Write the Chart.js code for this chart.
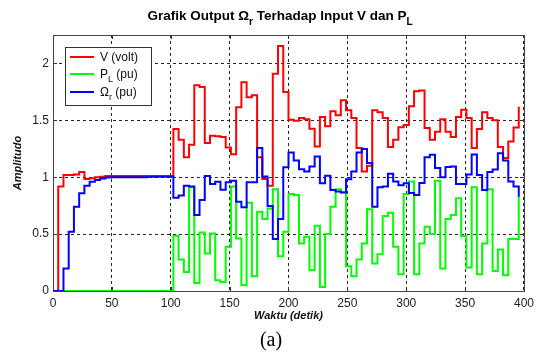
<!DOCTYPE html>
<html>
<head>
<meta charset="utf-8">
<script src="https://cdn.jsdelivr.net/npm/chart.js@4.4.0/dist/chart.umd.min.js"></script>
<style>
  body { margin: 0; background: #fff; }
  #wrap { position: relative; width: 539px; height: 352px; }
</style>
</head>
<body>
<div id="wrap"><canvas id="omegaChart"></canvas></div>
<script>
// sample time of the simulation (90 steps over 400 s)
const sampleTime = 400 / 90

const xTicks = [0, 50, 100, 150, 200, 250, 300, 350, 400]
const yTicks = [0, 0.5, 1, 1.5, 2]

// V (volt)
const voltValues = [
  0, 0.918, 1.02, 1.02, 1.025, 1.045, 0.985, 0.99, 1.0, 1.005,
  1.01, 1.01, 1.01, 1.01, 1.01, 1.01, 1.01, 1.01, 1.01, 1.01,
  1.01, 1.01, 1.01, 1.424, 1.329, 1.176, 1.285, 1.809, 1.794, 1.30,
  1.365, 1.36, 1.353, 1.262, 1.203, 1.615, 1.835, 1.703, 1.72, 1.176,
  0.985, 0.926, 1.909, 2.153, 1.75, 1.506, 1.497, 1.52, 1.51, 1.426,
  1.27, 1.53, 1.447, 1.579, 1.544, 1.676, 1.588, 1.52, 1.256, 1.05,
  1.10, 1.588, 1.57, 1.52, 1.265, 1.33, 1.44, 1.46, 1.624, 1.756,
  1.762, 1.432, 1.33, 1.40, 1.51, 1.40, 1.353, 1.53, 1.594, 1.52,
  1.256, 1.424, 1.57, 1.52, 1.50, 1.265, 1.168, 1.315, 1.438, 1.62
]

// P_L (pu)
const loadValues = [
  0, 0, 0, 0, 0, 0, 0, 0, 0, 0,
  0, 0, 0, 0, 0, 0, 0, 0, 0, 0,
  0, 0, 0, 0.485, 0.276, 0.168, 0.912, 0.07, 0.515, 0.33,
  0.506, 0.094, 0.079, 0.388, 0.918, 0.462, 0.05, 0.776, 0.13, 0.697,
  0.632, 0.726, 0.894, 0.306, 0.52, 0.853, 0.844, 0.418, 0.476, 0.182,
  0.574, 0.035, 0.5, 0.741, 0.894, 0.87, 0.218, 0.129, 0.276, 0.418,
  0.718, 0.241, 0.324, 0.659, 0.688, 0.388, 0.147, 0.853, 0.962, 0.147,
  0.418, 0.565, 0.5, 0.97, 0.197, 0.632, 0.668, 0.815, 0.482, 0.206,
  0.912, 0.147, 0.418, 0.894, 0.176, 0.365, 0.138, 0.456, 0.456, 0.83
]

// Omega_r (pu)
const omegaValues = [
  0, 0, 0.197, 0.52, 0.74, 0.86, 0.926, 0.96, 0.976, 0.988,
  0.997, 1.0, 1.0, 1.0, 1.0, 1.0, 1.0, 1.0, 1.005, 1.005,
  1.005, 1.005, 1.005, 0.82, 0.84, 0.926, 0.918, 0.668, 0.80, 1.01,
  0.94, 0.96, 0.89, 0.956, 0.968, 0.785, 0.735, 0.956, 0.956, 1.256,
  1.006, 0.747, 0.456, 0.632, 1.088, 1.218, 1.147, 1.07, 1.05, 1.094,
  1.182, 0.947, 1.012, 0.888, 0.874, 0.865, 0.982, 1.05, 1.218, 1.247,
  1.124, 0.741, 0.912, 0.918, 1.03, 0.962, 0.93, 0.947, 0.862, 0.844,
  0.95, 1.176, 1.197, 1.08, 1.0, 1.09, 1.094, 0.941, 0.941, 1.025,
  1.2, 1.02, 0.888, 1.045, 1.068, 1.21, 1.147, 0.962, 0.918, 0.829
]

const fontFamily = "'Liberation Sans', Arial, sans-serif"

function toPoints(values) {
  return values.map(function(v, i) {
    return { x: i * sampleTime, y: v }
  })
}

// draws text made of [text, isSubscript] pieces
function drawSubText(ctx, parts, x, y, size, weight, align) {
  let widths = parts.map(function(p) {
    ctx.font = weight + " " + (p[1] ? size * 0.75 : size) + "px " + fontFamily
    return ctx.measureText(p[0]).width
  })
  let total = widths.reduce(function(a, b) { return a + b }, 0)
  let cx = align === "center" ? x - total / 2 : x
  ctx.textAlign = "left"
  ctx.textBaseline = "alphabetic"
  parts.forEach(function(p, i) {
    ctx.font = weight + " " + (p[1] ? size * 0.75 : size) + "px " + fontFamily
    ctx.fillText(p[0], cx, p[1] ? y + size * 0.35 : y)
    cx += widths[i]
  })
}

const decorPlugin = {
  id: "decor",
  beforeDatasetsDraw(chart) {
    const ctx = chart.ctx
    const area = chart.chartArea
    const xs = chart.scales.x
    const ys = chart.scales.y
    ctx.save()
    ctx.strokeStyle = "#333"
    ctx.lineWidth = 1
    ctx.setLineDash([])
    // inward tick marks on all four sides
    ctx.beginPath()
    xTicks.forEach(function(t) {
      let px = Math.round(xs.getPixelForValue(t)) + 0.5
      ctx.moveTo(px, area.bottom); ctx.lineTo(px, area.bottom - 4)
      ctx.moveTo(px, area.top); ctx.lineTo(px, area.top + 4)
    })
    yTicks.forEach(function(t) {
      let py = Math.round(ys.getPixelForValue(t)) + 0.5
      ctx.moveTo(area.left, py); ctx.lineTo(area.left + 4, py)
      ctx.moveTo(area.right, py); ctx.lineTo(area.right - 4, py)
    })
    ctx.stroke()
    ctx.strokeStyle = "#444"
    ctx.strokeRect(Math.round(area.left) + 0.5, Math.round(area.top) + 0.5,
      Math.round(area.right - area.left), Math.round(area.bottom - area.top))
    ctx.restore()
  },
  afterDraw(chart) {
    const ctx = chart.ctx
    ctx.save()
    ctx.fillStyle = "#000"
    // title
    drawSubText(ctx, [["Grafik Output \u03A9", false], ["r", true], [" Terhadap Input V dan P", false], ["L", true]],
      280, 20, 13.5, "bold", "center")

    // legend
    ctx.fillStyle = "#fff"
    ctx.fillRect(65, 47, 86, 58)
    ctx.strokeStyle = "#333"
    ctx.lineWidth = 1
    ctx.strokeRect(65.5, 47.5, 86, 58)
    const items = [
      { color: "#ff0000", y: 57, parts: [["V (volt)", false]] },
      { color: "#00ff00", y: 74, parts: [["P", false], ["L", true], [" (pu)", false]] },
      { color: "#0000ff", y: 92, parts: [["\u03A9", false], ["r", true], [" (pu)", false]] }
    ]
    items.forEach(function(item) {
      ctx.strokeStyle = item.color
      ctx.lineWidth = 2
      ctx.beginPath()
      ctx.moveTo(70, item.y)
      ctx.lineTo(94, item.y)
      ctx.stroke()
      ctx.fillStyle = "#111"
      drawSubText(ctx, item.parts, 100, item.y + 4, 12, "normal", "left")
    })

    // caption under the figure
    ctx.fillStyle = "#000"
    ctx.font = "20px 'Liberation Serif', 'Times New Roman', serif"
    ctx.textAlign = "center"
    ctx.textBaseline = "alphabetic"
    ctx.fillText("(a)", 271, 346)
    ctx.restore()
  }
}

const lineStyle = {
  stepped: "before",
  borderWidth: 2,
  pointRadius: 0,
  fill: false,
  tension: 0
}

new Chart(document.getElementById("omegaChart"), {
  type: "line",
  data: {
    datasets: [
      Object.assign({ label: "V (volt)", data: toPoints(voltValues), borderColor: "#ff0000", order: 3 }, lineStyle),
      Object.assign({ label: "PL (pu)", data: toPoints(loadValues), borderColor: "#00ff00", order: 2 }, lineStyle),
      Object.assign({ label: "Wr (pu)", data: toPoints(omegaValues), borderColor: "#0000ff", order: 1 }, lineStyle)
    ]
  },
  options: {
    responsive: true,
    maintainAspectRatio: false,
    animation: false,
    layout: { padding: { top: 35, right: 12, left: 0, bottom: 0 } },
    plugins: {
      legend: { display: false },
      title: { display: false },
      tooltip: { enabled: false }
    },
    scales: {
      x: {
        type: "linear",
        min: 0,
        max: 400,
        afterBuildTicks: function(scale) {
          scale.ticks = xTicks.map(function(v) { return { value: v } })
        },
        afterFit: function(scale) { scale.height = 61 },
        grid: { color: "rgba(0,0,0,0.85)", drawTicks: false, lineWidth: 1 },
        border: { display: false, dash: [3, 3] },
        ticks: {
          padding: 5,
          maxRotation: 0,
          color: "#1a1a1a",
          font: { family: fontFamily, size: 12 },
          callback: function(value) { return String(value) }
        },
        title: {
          display: true,
          text: "Waktu (detik)",
          color: "#111",
          font: { family: fontFamily, size: 11, weight: "bold", style: "italic" },
          padding: { top: 0, bottom: 29 }
        }
      },
      y: {
        min: 0,
        max: 2.25,
        afterBuildTicks: function(scale) {
          scale.ticks = yTicks.map(function(v) { return { value: v } })
        },
        afterFit: function(scale) { scale.width = 53 },
        grid: { color: "rgba(0,0,0,0.85)", drawTicks: false, lineWidth: 1 },
        border: { display: false, dash: [3, 3] },
        ticks: {
          padding: 4,
          color: "#1a1a1a",
          font: { family: fontFamily, size: 12 },
          callback: function(value) { return String(value) }
        },
        title: {
          display: true,
          text: "Amplitudo",
          color: "#111",
          font: { family: fontFamily, size: 11, weight: "bold", style: "italic" },
          padding: { top: 11, bottom: 0 }
        }
      }
    }
  },
  plugins: [decorPlugin]
})
</script>
</body>
</html>
